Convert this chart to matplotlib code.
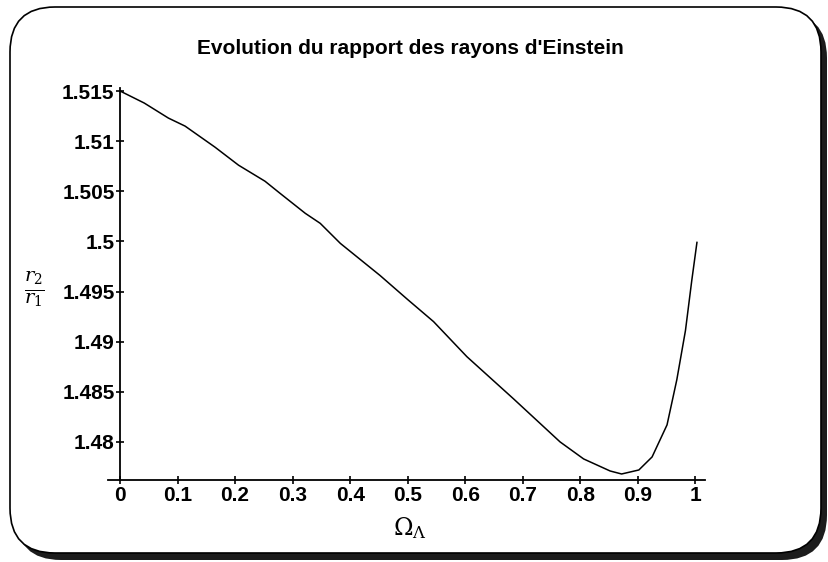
import matplotlib
matplotlib.use("Agg")
import matplotlib.pyplot as plt
from matplotlib.patches import FancyBboxPatch

omega = [0.000, 0.042, 0.084, 0.113, 0.165, 0.206, 0.252, 0.278, 0.322, 0.348,
         0.383, 0.452, 0.500, 0.545, 0.603, 0.684, 0.765, 0.806, 0.852, 0.872,
         0.902, 0.925, 0.951, 0.968, 0.983, 0.994, 1.003]
ratio = [1.5150, 1.5138, 1.5123, 1.5115, 1.5094, 1.5076, 1.5060, 1.5048, 1.5028, 1.5018,
         1.4998, 1.4966, 1.4942, 1.4920, 1.4885, 1.4843, 1.4800, 1.4783, 1.4771, 1.4768,
         1.4772, 1.4785, 1.4817, 1.4862, 1.4911, 1.4961, 1.4999]
xticks = [0, 0.1, 0.2, 0.3, 0.4, 0.5, 0.6, 0.7, 0.8, 0.9, 1]
xticklabels = ["0", "0.1", "0.2", "0.3", "0.4", "0.5", "0.6", "0.7", "0.8", "0.9", "1"]
yticks = [1.48, 1.485, 1.49, 1.495, 1.5, 1.505, 1.51, 1.515]
yticklabels = ["1.48", "1.485", "1.49", "1.495", "1.5", "1.505", "1.51", "1.515"]
title = "Evolution du rapport des rayons d'Einstein"

W, H = 829, 562
fig = plt.figure(figsize=(W / 100, H / 100), dpi=100)
fig.patch.set_facecolor("white")

# background frame
bg = fig.add_axes([0, 0, 1, 1], zorder=-10)
bg.set_xlim(0, W)
bg.set_ylim(H, 0)
bg.axis("off")
shadow = FancyBboxPatch((16, 13), 811, 547, boxstyle="round,pad=0,rounding_size=45",
                        facecolor="#1c1c1c", edgecolor="none")
bg.add_patch(shadow)
frame = FancyBboxPatch((10, 7), 811, 546, boxstyle="round,pad=0,rounding_size=45",
                       facecolor="white", edgecolor="black", linewidth=1.2)
bg.add_patch(frame)

x0, x1 = 108, 705
y0, y1 = 88, 480
ax = fig.add_axes([x0 / W, 1 - y1 / H, (x1 - x0) / W, (y1 - y0) / H])
ax.patch.set_alpha(0)
ax.plot(omega, ratio, color="black", linewidth=1.1)

ax.set_xlim(-0.021, 1.017)
ax.set_ylim(1.4762, 1.5153)
ax.spines["top"].set_visible(False)
ax.spines["right"].set_visible(False)
ax.spines["left"].set_position(("data", 0))
for s in ("left", "bottom"):
    ax.spines[s].set_linewidth(1.3)

font = "Liberation Sans"
ax.set_xticks(xticks)
ax.set_xticklabels(xticklabels, fontfamily=font, fontweight="bold", fontsize=15)
ax.set_yticks(yticks)
ax.set_yticklabels(yticklabels, fontfamily=font, fontweight="bold", fontsize=15)
ax.tick_params(axis="both", direction="inout", length=6, width=1.2, pad=1)

fig.text(410 / W, 1 - 48 / H, title, ha="center", va="center",
         fontfamily=font, fontweight="bold", fontsize=15)
fig.text(410 / W, 1 - 528 / H, r"$\Omega_\Lambda$", ha="center", va="center",
         fontsize=17, math_fontfamily="dejavuserif")
fig.text(34 / W, 1 - 289 / H, r"$\frac{r_2}{r_1}$", ha="center", va="center",
         fontsize=20, math_fontfamily="dejavuserif")

fig.savefig("out.png", dpi=100)
